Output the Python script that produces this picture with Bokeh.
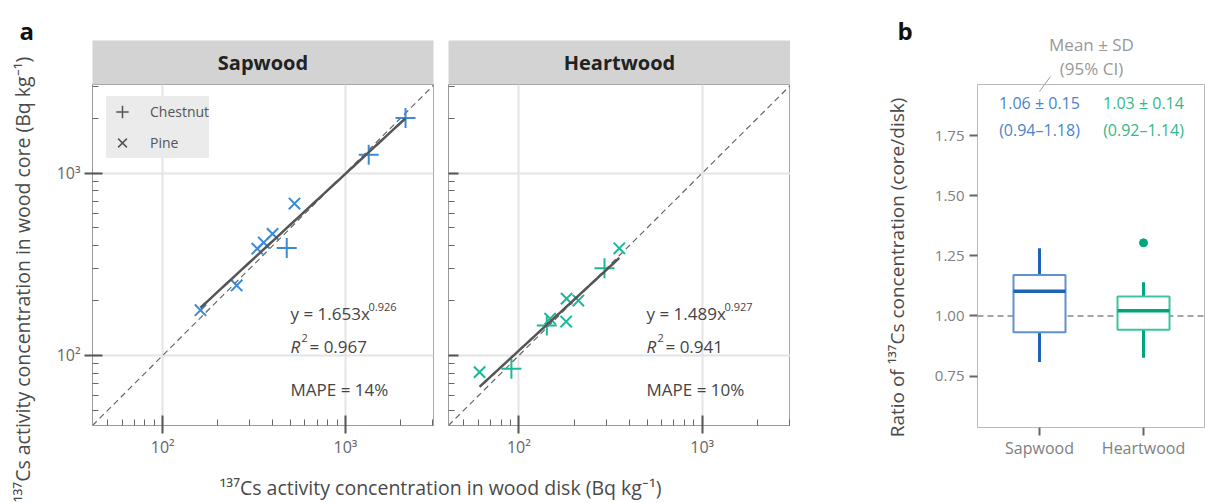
import math
import numpy as np
from bokeh.plotting import figure
from bokeh.models import (Range1d, FixedTicker, Label, Legend, LegendItem, Slope, Span,
                          Arrow, ColumnDataSource, FactorRange, NumeralTickFormatter)
from bokeh.layouts import row, column
from bokeh.embed import file_html
from bokeh.resources import INLINE
from bokeh.transform import dodge

FONT = "Open Sans"

# ---------------- data ----------------
sap_chestnut_disk = [2130, 1340, 477]
sap_chestnut_core = [2005, 1262, 388]
sap_pine_disk = [526, 399, 357, 329, 254, 161]
sap_pine_core = [681, 464, 416, 385, 242, 177]

heart_chestnut_disk = [293, 142, 91]
heart_chestnut_core = [301, 146, 84.5]
heart_pine_disk = [353, 182, 211, 181, 148, 61]
heart_pine_core = [387, 205, 200, 153.5, 159, 81]

facet_names = ["Sapwood", "Heartwood"]
fit_coef = [1.653, 1.489]
fit_exp = [0.926, 0.927]
fit_r2 = ["0.967", "0.941"]
fit_mape = ["14%", "10%"]

log_major = [100, 1000]
log_minor = [50, 60, 70, 80, 90, 200, 300, 400, 500, 600, 700, 800, 900, 2000, 3000]
log_labels = {100: "10²", 1000: "10³"}
no_labels = {100: "", 1000: ""}

ratio_groups = ["Sapwood", "Heartwood"]
ratio_lower = [0.808, 0.826]
ratio_q1 = [0.932, 0.943]
ratio_median = [1.103, 1.022]
ratio_q3 = [1.170, 1.081]
ratio_upper = [1.281, 1.140]
outlier_group = ["Heartwood"]
outlier_value = [1.304]
ratio_mean_sd = ["1.06 ± 0.15", "1.03 ± 0.14"]
ratio_ci = ["(0.94–1.18)", "(0.92–1.14)"]
ratio_ticks = [0.75, 1.00, 1.25, 1.50, 1.75]

# ---------------- styles ----------------
BLUE_PT = "#3a8ad6"
GREEN_PT = "#1bb99a"
BLUE_DARK = "#1f63b4"
BLUE_LIGHT = "#5d92cf"
GREEN_DARK = "#00a67c"
GREEN_LIGHT = "#3cc4a0"
BLUE_TXT = "#4a84c8"
GREEN_TXT = "#33b98a"
TITLE_COL = "#4a4a4a"


def blank(width, height, **kw):
    f = figure(width=width, height=height, x_range=Range1d(0, 1), y_range=Range1d(0, 1),
               x_axis_location=None, y_axis_location=None, toolbar_location=None,
               output_backend="svg", **kw)
    f.grid.visible = False
    f.outline_line_color = None
    return f


def facet(i, cx, cy, px, py, color, width, left, right, first):
    strip = blank(width, 84, min_border_left=left, min_border_right=right,
                  min_border_top=40, min_border_bottom=0)
    strip.background_fill_color = "#d3d3d3"
    strip.add_layout(Label(x=(width - left - right) / 2, y=22, x_units="screen", y_units="screen",
                           text=facet_names[i], text_font=FONT, text_font_style="bold",
                           text_font_size="20px", text_color="#222222",
                           text_align="center", text_baseline="middle"))

    p = figure(width=width, height=378, x_axis_type="log", y_axis_type="log",
               x_range=Range1d(41.3, 3030), y_range=Range1d(41.3, 3060),
               min_border_left=left, min_border_right=right, min_border_top=0,
               min_border_bottom=37, toolbar_location=None, output_backend="svg")
    p.outline_line_color = "#a8a8a8"
    for ax in (p.xaxis[0], p.yaxis[0]):
        ax.ticker = FixedTicker(ticks=log_major, minor_ticks=log_minor)
        ax.major_label_overrides = log_labels
        ax.axis_line_color = "#9a9a9a"
        ax.major_tick_line_color = "#555555"
        ax.minor_tick_line_color = "#666666"
        ax.major_tick_line_width = 2
        ax.major_tick_in = 10
        ax.major_tick_out = 8
        ax.minor_tick_in = 6
        ax.minor_tick_out = 0
        ax.major_label_text_font = FONT
        ax.major_label_text_font_size = "16px"
        ax.major_label_text_color = "#666666"
    p.xaxis.major_label_standoff = 2
    p.yaxis.major_label_standoff = 4
    if not first:
        p.yaxis.major_label_overrides = no_labels
        p.yaxis.major_label_standoff = 0
        p.yaxis.major_tick_out = 0
    p.grid.grid_line_color = "#e4e4e4"
    p.grid.grid_line_width = 2

    p.add_layout(Slope(gradient=1, y_intercept=0, line_color="#666666", line_dash="6 4",
                       line_width=1.2, level="underlay"))
    p.scatter(cx, cy, marker="cross", size=20, line_color=color, line_width=2)
    p.scatter(px, py, marker="x", size=16, line_color=color, line_width=2)
    allx = cx + px
    xs = np.geomspace(min(allx), max(allx), 60)
    p.line(xs, fit_coef[i] * xs ** fit_exp[i], line_color="#555555", line_width=2.5)

    tx = 198
    eq = f"y = {fit_coef[i]:.3f}x"
    p.add_layout(Label(x=tx, y=112, x_units="screen", y_units="screen", text=eq,
                       text_font=FONT, text_font_size="17px", text_color="#444444",
                       text_baseline="middle"))
    p.add_layout(Label(x=tx + 78, y=119, x_units="screen", y_units="screen",
                       text=f"{fit_exp[i]:.3f}", text_font=FONT, text_font_size="11px",
                       text_color="#444444", text_baseline="middle"))
    p.add_layout(Label(x=tx, y=79, x_units="screen", y_units="screen", text="R",
                       text_font=FONT, text_font_style="italic", text_font_size="17px",
                       text_color="#444444", text_baseline="middle"))
    p.add_layout(Label(x=tx + 11, y=88, x_units="screen", y_units="screen", text="2",
                       text_font=FONT, text_font_size="11px", text_color="#444444",
                       text_baseline="middle"))
    p.add_layout(Label(x=tx + 19, y=79, x_units="screen", y_units="screen",
                       text=f" = {fit_r2[i]}", text_font=FONT, text_font_size="17px",
                       text_color="#444444", text_baseline="middle"))
    p.add_layout(Label(x=tx, y=36, x_units="screen", y_units="screen",
                       text=f"MAPE = {fit_mape[i]}", text_font=FONT, text_font_size="17px",
                       text_color="#444444", text_baseline="middle"))

    if first:
        nan = [float("nan")]
        rc = p.scatter(x=nan, y=nan, marker="cross", line_color="#555555", line_width=1.5)
        rp = p.scatter(x=nan, y=nan, marker="x", line_color="#555555", line_width=1.5)
        leg = Legend(items=[LegendItem(label="Chestnut", renderers=[rc]),
                            LegendItem(label="Pine", renderers=[rp])],
                     location=(14, 267), background_fill_color="#ebebeb",
                     background_fill_alpha=1.0, border_line_color=None,
                     glyph_width=32, glyph_height=31, spacing=0, padding=0, margin=0,
                     label_standoff=12, label_text_font=FONT, label_text_font_size="14px",
                     label_text_color="#555555")
        p.add_layout(leg)
    return column(strip, p)


colS = facet(0, sap_chestnut_disk, sap_chestnut_core, sap_pine_disk, sap_pine_core,
             BLUE_PT, 396, 48, 7, True)
colH = facet(1, heart_chestnut_disk, heart_chestnut_core, heart_pine_disk, heart_pine_core,
             GREEN_PT, 350, 8, 0, False)

# left label column (panel a)
ylabA = blank(44, 503, min_border=0, frame_align=False)
ylabA.add_layout(Label(x=22, y=224, x_units="screen", y_units="screen", angle=math.pi / 2,
                       text="¹³⁷Cs activity concentration in wood core (Bq kg⁻¹)",
                       text_font=FONT, text_font_size="19.5px", text_color=TITLE_COL,
                       text_align="center", text_baseline="middle"))
ylabA.add_layout(Label(x=19, y=473, x_units="screen", y_units="screen", text="a",
                       text_font=FONT, text_font_style="bold", text_font_size="24px",
                       text_color="#111111", text_baseline="alphabetic"))

xlabA = blank(746, 41, min_border=0, frame_align=False)
xlabA.add_layout(Label(x=396, y=16, x_units="screen", y_units="screen",
                       text="¹³⁷Cs activity concentration in wood disk (Bq kg⁻¹)",
                       text_font=FONT, text_font_size="19.5px", text_color=TITLE_COL,
                       text_align="center", text_baseline="middle"))

# ---------------- panel b ----------------
ylabB = blank(137, 503, min_border=0, frame_align=False)
ylabB.add_layout(Label(x=106, y=236, x_units="screen", y_units="screen", angle=math.pi / 2,
                       text="Ratio of ¹³⁷Cs concentration (core/disk)", text_font=FONT,
                       text_font_size="19px", text_color=TITLE_COL, text_align="center",
                       text_baseline="middle"))
ylabB.add_layout(Label(x=107, y=473, x_units="screen", y_units="screen", text="b",
                       text_font=FONT, text_font_style="bold", text_font_size="24px",
                       text_color="#111111", text_baseline="alphabetic"))

headerB = blank(278, 84, min_border=0, frame_align=False)
headerB.add_layout(Label(x=164, y=40, x_units="screen", y_units="screen", text="Mean ± SD",
                         text_font=FONT, text_font_size="17px", text_color="#999999",
                         text_align="center", text_baseline="middle"))
headerB.add_layout(Label(x=164, y=16, x_units="screen", y_units="screen", text="(95% CI)",
                         text_font=FONT, text_font_size="17px", text_color="#999999",
                         text_align="center", text_baseline="middle"))
headerB.add_layout(Arrow(end=None, x_start=112, y_start=-7, x_end=123, y_end=8,
                         start_units="screen", end_units="screen", line_color="#999999",
                         line_width=1))

pb = figure(width=278, height=419, x_range=FactorRange(*ratio_groups, range_padding=0.096),
            y_range=Range1d(0.536, 1.9625), min_border_left=50, min_border_right=0,
            min_border_top=0, min_border_bottom=76, toolbar_location=None,
            output_backend="svg", frame_align=False)
pb.grid.visible = False
pb.outline_line_color = "#bbbbbb"
pb.axis.axis_line_color = "#bbbbbb"
pb.axis.major_tick_line_color = "#666666"
pb.axis.major_tick_line_width = 2
pb.axis.major_tick_in = 0
pb.axis.major_tick_out = 8
pb.axis.minor_tick_in = 0
pb.axis.minor_tick_out = 0
pb.axis.major_label_text_font = FONT
pb.axis.major_label_text_color = "#808080"
pb.xaxis.major_label_text_font_size = "16px"
pb.yaxis.major_label_text_font_size = "15px"
pb.xaxis.major_label_standoff = 1
pb.yaxis.ticker = FixedTicker(ticks=ratio_ticks)
pb.yaxis.formatter = NumeralTickFormatter(format="0.00")

pb.add_layout(Span(location=1.0, dimension="width", line_color="#888888", line_dash="6 4",
                   line_width=1.5, level="underlay"))

src = ColumnDataSource(dict(group=ratio_groups, lower=ratio_lower, q1=ratio_q1,
                            med=ratio_median, q3=ratio_q3, upper=ratio_upper,
                            dark=[BLUE_DARK, GREEN_DARK], light=[BLUE_LIGHT, GREEN_LIGHT]))
pb.segment(x0="group", y0="lower", x1="group", y1="q1", line_color="dark", line_width=3, source=src)
pb.segment(x0="group", y0="q3", x1="group", y1="upper", line_color="dark", line_width=3, source=src)
pb.vbar(x="group", bottom="q1", top="q3", width=0.5, fill_color="white", line_color="light",
        line_width=2, source=src)
pb.segment(x0=dodge("group", -0.25, range=pb.x_range), y0="med",
           x1=dodge("group", 0.25, range=pb.x_range), y1="med",
           line_color="dark", line_width=3.5, source=src)
pb.scatter(x=outlier_group, y=outlier_value, size=8, color=GREEN_DARK)

for j, (sd, ci, col) in enumerate(zip(ratio_mean_sd, ratio_ci, [BLUE_TXT, GREEN_TXT])):
    cx = 62 + j * 104
    pb.add_layout(Label(x=cx, y=325, x_units="screen", y_units="screen", text=sd,
                        text_font=FONT, text_font_size="16px", text_color=col,
                        text_align="center", text_baseline="middle"))
    pb.add_layout(Label(x=cx, y=298, x_units="screen", y_units="screen", text=ci,
                        text_font=FONT, text_font_size="16px", text_color=col,
                        text_align="center", text_baseline="middle"))
pb.add_layout(Arrow(end=None, x_start=62, y_start=336, x_end=73, y_end=351,
                    start_units="screen", end_units="screen", line_color="#999999",
                    line_width=1))

layout = row(ylabA, column(row(colS, colH), xlabA), ylabB, column(headerB, pb))

open("out.html", "w").write(file_html(layout, INLINE))
